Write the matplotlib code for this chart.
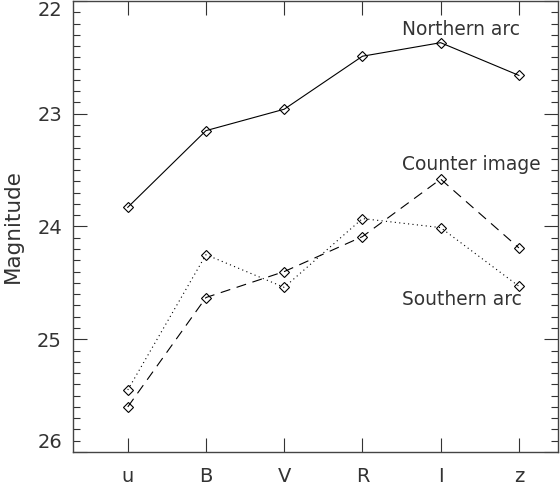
import numpy as np
import matplotlib
matplotlib.use('Agg')
import matplotlib.pyplot as plt
from matplotlib.ticker import MultipleLocator

# filters and magnitudes
bands = ['u', 'B', 'V', 'R', 'I', 'z']
northern_arc = [23.83, 23.15, 22.96, 22.49, 22.37, 22.66]
counter_image = [25.60, 24.63, 24.40, 24.09, 23.58, 24.19]
southern_arc = [25.45, 24.25, 24.54, 23.93, 24.01, 24.53]

x = np.arange(1, len(bands) + 1)

plt.rcParams.update({'font.family': 'DejaVu Sans', 'font.size': 12})
fig = plt.figure(figsize=(5.6, 4.86), dpi=100)
ax = fig.add_axes([0.1304, 0.07, 0.866, 0.928])

mk = dict(marker='D', ms=5.5, mfc='none', mec='black', mew=0.8, color='black', lw=0.8)
ax.plot(x, northern_arc, linestyle='-', **mk)
ax.plot(x, counter_image, linestyle=(0, (9, 6)), **mk)
ax.plot(x, southern_arc, linestyle=(0, (1, 3)), **mk)

# series names written next to the curves
txt = dict(ha='left', va='center', fontsize=13.4, color='#333333')
ax.text(4.51, 22.25, 'Northern arc', **txt)
ax.text(4.51, 23.45, 'Counter image', **txt)
ax.text(4.51, 24.65, 'Southern arc', **txt)

ax.set_xlim(0.3, 6.5)
ax.set_ylim(26, 22)
ax.set_xticks(x)
ax.set_xticklabels(bands)
ax.yaxis.set_major_locator(MultipleLocator(1))
ax.yaxis.set_minor_locator(MultipleLocator(0.1))
ax.tick_params(axis='both', which='both', direction='in', top=True, right=True,
               color='#333333', labelcolor='#333333')
ax.tick_params(axis='both', which='major', length=10, width=0.8, labelsize=14)
ax.tick_params(axis='x', which='major', pad=10.5)
ax.tick_params(axis='y', which='major', pad=8)
ax.tick_params(axis='y', which='minor', length=5, width=0.8)
ax.tick_params(axis='x', which='minor', bottom=False, top=False)
ax.set_ylabel('Magnitude', fontsize=15.5, color='#333333', labelpad=10)

fig.canvas.draw()
for lab in ax.get_yticklabels():
    if lab.get_text() == '22':
        lab.set_va('top')       # keep 22 inside the frame
    elif lab.get_text() == '26':
        lab.set_va('bottom')    # keep 26 above the bottom edge

for s in ax.spines.values():
    s.set_linewidth(1.0)
    s.set_color('#444444')

fig.savefig('out.png', dpi=100)
